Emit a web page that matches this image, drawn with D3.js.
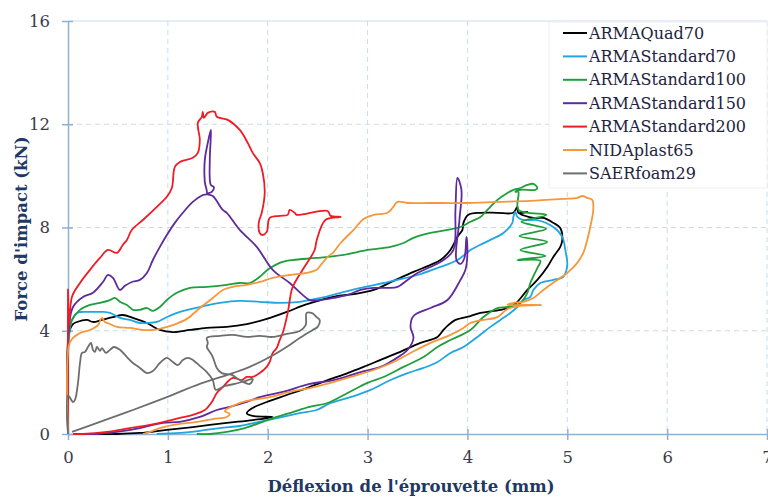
<!DOCTYPE html>
<html>
<head>
<meta charset="utf-8">
<script src="https://cdn.jsdelivr.net/npm/d3@7"></script>
<style>
  body { margin: 0; background: #fff; }
  svg { display: block; }
</style>
</head>
<body>
<div id="chart"></div>
<script>
// deflection (mm), impact force (kN)
var armaQuad70 = [[0,0],[0.01,3.9],[0.05,4.26],[0.09,4.34],[0.19,4.42],[0.25,4.34],[0.34,4.42],[0.45,4.53],[0.55,4.61],[0.65,4.5],[0.79,4.3],[0.92,4.03],[1.05,3.95],[1.22,4.03],[1.39,4.11],[1.59,4.15],[1.79,4.26],[1.99,4.46],[2.19,4.73],[2.37,5.0],[2.53,5.19],[2.7,5.35],[2.88,5.43],[3.06,5.58],[3.26,5.93],[3.46,6.28],[3.63,6.55],[3.73,6.74],[3.83,7.13],[3.9,7.64],[3.95,7.91],[3.96,8.18],[4.01,8.49],[4.13,8.57],[4.3,8.57],[4.46,8.57],[4.5,8.8],[4.51,8.57],[4.6,8.6],[4.52,8.55],[4.66,8.37],[4.76,8.37],[4.86,8.18],[4.93,7.98],[4.95,7.52],[4.93,7.25],[4.86,6.86],[4.8,6.47],[4.7,5.97],[4.6,5.58],[4.5,5.12],[4.43,4.92],[4.33,4.81],[4.13,4.69],[4.03,4.57],[3.88,4.42],[3.8,4.19],[3.76,4.03],[3.7,3.76],[3.53,3.53],[3.3,3.14],[3.13,2.87],[2.96,2.6],[2.8,2.36],[2.6,2.09],[2.39,1.78],[2.19,1.51],[1.99,1.24],[1.85,1.01],[1.79,0.81],[1.85,0.7],[2.05,0.66],[1.85,0.54],[1.59,0.43],[1.25,0.27],[0.99,0.16],[0.72,0.04],[0.49,0],[0.25,0],[0.05,0]]

var armaStandard70 = [[0,0],[0.01,3.76],[0.04,4.42],[0.09,4.69],[0.15,4.73],[0.25,4.73],[0.35,4.73],[0.42,4.69],[0.52,4.5],[0.62,4.42],[0.72,4.3],[0.79,4.3],[0.89,4.34],[0.99,4.53],[1.12,4.73],[1.32,4.92],[1.52,5.08],[1.72,5.16],[1.92,5.12],[2.12,5.08],[2.32,5.12],[2.53,5.27],[2.73,5.47],[2.93,5.66],[3.16,5.85],[3.3,5.97],[3.5,6.16],[3.7,6.43],[3.9,6.74],[4.03,7.13],[4.13,7.33],[4.23,7.52],[4.36,7.79],[4.45,8.18],[4.46,8.41],[4.48,8.6],[4.5,8.41],[4.56,8.29],[4.7,8.29],[4.86,8.02],[4.95,7.64],[4.98,7.13],[5.0,6.55],[4.96,6.09],[4.86,5.97],[4.73,5.85],[4.66,5.58],[4.63,5.31],[4.56,5.19],[4.5,4.92],[4.43,4.69],[4.33,4.42],[4.23,4.15],[4.1,3.76],[3.96,3.37],[3.83,3.14],[3.7,2.79],[3.56,2.56],[3.4,2.36],[3.23,2.09],[3.03,1.71],[2.83,1.43],[2.63,1.2],[2.49,0.93],[2.32,0.81],[2.15,0.66],[1.99,0.54],[1.82,0.39],[1.72,0.31],[1.52,0.23],[1.32,0.12],[1.12,0.04],[0.89,0]]

var armaStandard100 = [[0,0],[0.01,3.91],[0.04,4.42],[0.12,4.81],[0.22,5.0],[0.32,5.08],[0.42,5.19],[0.47,5.27],[0.52,5.12],[0.59,5.0],[0.65,4.81],[0.72,4.81],[0.79,4.88],[0.85,4.77],[0.92,4.92],[0.99,5.19],[1.09,5.47],[1.22,5.66],[1.39,5.7],[1.59,5.78],[1.72,5.85],[1.82,5.85],[1.92,6.09],[2.0,6.36],[2.12,6.63],[2.25,6.74],[2.49,6.82],[2.76,6.94],[3.0,7.13],[3.23,7.25],[3.36,7.4],[3.46,7.6],[3.63,7.79],[3.8,7.91],[3.93,8.02],[4.03,8.22],[4.13,8.41],[4.2,8.68],[4.3,9.07],[4.4,9.34],[4.46,9.46],[4.53,9.53],[4.6,9.65],[4.66,9.69],[4.7,9.53],[4.68,9.46],[4.53,9.46],[4.48,9.38],[4.51,9.38],[4.51,8.68],[4.79,8.49],[4.54,8.22],[4.79,7.95],[4.52,7.67],[4.8,7.44],[4.53,7.13],[4.78,6.9],[4.5,6.74],[4.73,6.71],[4.7,6.43],[4.63,5.85],[4.6,5.47],[4.53,5.08],[4.4,4.92],[4.3,4.88],[4.16,4.53],[4.03,4.03],[3.83,3.64],[3.7,3.37],[3.56,2.98],[3.36,2.6],[3.16,2.21],[3.0,1.98],[2.8,1.59],[2.6,1.2],[2.42,1.05],[2.25,0.85],[2.09,0.66],[1.95,0.47],[1.77,0.23],[1.59,0.08],[1.42,0],[1.29,0]]

var armaStandard150 = [[0,0],[0.01,4.15],[0.05,4.92],[0.15,5.31],[0.25,5.47],[0.35,5.89],[0.4,6.16],[0.45,6.05],[0.52,5.58],[0.57,5.74],[0.64,5.89],[0.72,5.97],[0.79,6.24],[0.85,6.74],[0.92,7.25],[0.99,7.71],[1.07,8.18],[1.15,8.57],[1.25,8.99],[1.35,9.26],[1.39,9.3],[1.37,9.77],[1.37,10.62],[1.4,11.28],[1.43,11.78],[1.43,11.51],[1.42,10.62],[1.43,9.65],[1.46,9.57],[1.44,9.38],[1.39,9.3],[1.45,9.22],[1.55,8.68],[1.59,8.57],[1.72,7.91],[1.89,7.25],[2.05,6.36],[2.22,5.85],[2.35,5.39],[2.42,5.19],[2.53,5.19],[2.66,5.27],[2.8,5.39],[2.93,5.58],[3.06,5.66],[3.2,5.66],[3.3,5.7],[3.4,5.97],[3.5,6.24],[3.63,6.47],[3.76,6.74],[3.86,7.13],[3.88,8.68],[3.9,9.92],[3.94,9.46],[3.92,8.29],[3.89,6.74],[3.93,6.59],[3.97,6.82],[3.99,7.64],[4.0,7.02],[3.98,6.36],[3.93,5.97],[3.8,5.19],[3.63,4.88],[3.46,4.57],[3.43,4.15],[3.46,3.72],[3.4,3.26],[3.26,2.87],[3.13,2.6],[2.93,2.4],[2.66,2.09],[2.42,1.94],[2.15,1.63],[1.92,1.43],[1.79,1.24],[1.62,1.05],[1.49,0.93],[1.32,0.66],[1.12,0.47],[0.95,0.43],[0.72,0.23],[0.49,0.08],[0.29,0],[0.09,0]]

var armaStandard200 = [[0,0],[0,5.6],[0.01,4.22],[0.04,5.32],[0.12,5.85],[0.22,6.36],[0.32,6.82],[0.4,7.13],[0.49,7.02],[0.55,7.33],[0.59,7.52],[0.64,7.91],[0.75,8.29],[0.89,8.8],[0.99,9.19],[1.04,9.53],[1.07,10.35],[1.12,10.54],[1.25,10.7],[1.3,10.89],[1.32,11.4],[1.3,12.05],[1.34,12.29],[1.35,12.48],[1.36,12.25],[1.4,12.44],[1.47,12.48],[1.49,12.29],[1.6,12.17],[1.72,11.78],[1.8,11.28],[1.85,10.89],[1.92,10.5],[1.95,10.12],[1.97,9.34],[1.94,8.57],[1.91,8.18],[1.92,7.79],[1.95,7.71],[1.99,7.83],[2.02,8.37],[2.12,8.45],[2.2,8.49],[2.22,8.68],[2.27,8.57],[2.29,8.49],[2.6,8.64],[2.63,8.45],[2.73,8.41],[2.58,8.3],[2.49,7.5],[2.47,7.13],[2.35,6.36],[2.27,5.85],[2.24,5.58],[2.2,4.69],[2.15,3.91],[2.12,3.64],[2.09,3.33],[2.05,3.14],[2.02,2.79],[1.99,2.6],[1.92,2.36],[1.85,2.21],[1.79,2.21],[1.74,2.09],[1.65,2.17],[1.55,1.82],[1.49,1.59],[1.44,1.24],[1.37,0.93],[1.25,0.74],[1.12,0.62],[0.82,0.35],[0.62,0.23],[0.39,0.08],[0.15,0],[0.05,0]]

var nidaplast65 = [[0,0],[0.01,3.45],[0.05,3.72],[0.12,3.91],[0.22,4.03],[0.3,4.22],[0.34,4.5],[0.37,4.34],[0.42,4.26],[0.49,4.15],[0.62,4.11],[0.75,4.03],[0.85,4.03],[0.95,4.11],[1.05,4.22],[1.19,4.46],[1.32,4.88],[1.45,5.27],[1.55,5.58],[1.65,5.7],[1.79,5.78],[1.92,5.89],[2.05,6.05],[2.22,6.16],[2.39,6.24],[2.49,6.36],[2.54,6.59],[2.6,6.86],[2.66,7.05],[2.73,7.4],[2.86,7.91],[2.96,8.33],[3.06,8.49],[3.2,8.57],[3.25,8.76],[3.3,8.99],[3.4,8.95],[3.63,8.95],[3.96,8.95],[4.3,8.99],[4.63,9.03],[4.96,9.11],[5.1,9.15],[5.15,9.22],[5.2,9.15],[5.25,9.07],[5.26,8.68],[5.23,8.02],[5.2,7.52],[5.16,7.02],[5.1,6.63],[5.0,6.24],[4.9,5.97],[4.76,5.58],[4.66,5.27],[4.56,5.12],[4.46,5.08],[4.4,5.0],[4.58,5.0],[4.74,5.0],[4.53,4.96],[4.4,4.84],[4.3,4.53],[4.16,4.42],[4.03,4.3],[3.96,4.11],[3.83,3.84],[3.63,3.53],[3.43,3.14],[3.26,2.79],[3.03,2.44],[2.83,2.21],[2.63,1.98],[2.42,1.78],[2.22,1.63],[2.02,1.43],[1.79,1.28],[1.65,1.09],[1.57,0.89],[1.62,0.78],[1.59,0.66],[1.45,0.58],[1.29,0.47],[1.12,0.39],[0.92,0.23],[0.82,0.08],[0.75,0]]

var saerfoam29 = [[0,0],[0,1.5],[0.05,1.24],[0.07,1.32],[0.1,1.98],[0.12,2.75],[0.14,3.14],[0.17,3.18],[0.2,3.37],[0.23,3.53],[0.25,3.26],[0.27,3.18],[0.29,3.37],[0.32,3.22],[0.34,3.33],[0.38,3.14],[0.42,3.26],[0.46,3.37],[0.52,3.26],[0.59,2.98],[0.65,2.75],[0.72,2.56],[0.79,2.36],[0.85,2.44],[0.92,2.75],[0.99,2.95],[1.05,2.79],[1.1,2.67],[1.15,2.87],[1.2,2.95],[1.25,2.87],[1.32,2.64],[1.39,2.4],[1.45,2.09],[1.48,1.71],[1.57,1.86],[1.67,1.94],[1.77,2.05],[1.85,2.13],[1.82,1.94],[1.72,2.09],[1.64,2.29],[1.54,2.36],[1.49,2.56],[1.45,2.98],[1.42,3.18],[1.39,3.37],[1.4,3.53],[1.39,3.72],[1.52,3.8],[1.65,3.84],[1.79,3.76],[1.92,3.8],[2.05,3.76],[2.19,3.88],[2.32,3.99],[2.38,4.22],[2.39,4.69],[2.44,4.69],[2.49,4.53],[2.52,4.42],[2.5,4.15],[2.45,4.03],[2.32,3.72],[2.22,3.45],[2.02,2.98],[1.82,2.6],[1.65,2.36],[1.32,1.94],[0.99,1.43],[0.65,0.93],[0.32,0.47],[0.04,0.08]]

var seriesNames = ["ARMAQuad70", "ARMAStandard70", "ARMAStandard100", "ARMAStandard150", "ARMAStandard200", "NIDAplast65", "SAERfoam29"]
var seriesColors = ["#000000", "#22a6e2", "#1f9e3c", "#5f2a9c", "#ee1c24", "#f5973a", "#6e6e6e"]
var seriesData = [armaQuad70, armaStandard70, armaStandard100, armaStandard150, armaStandard200, nidaplast65, saerfoam29]

var xTicks = [0, 1, 2, 3, 4, 5, 6, 7]
var yTicks = [0, 4, 8, 12, 16]

var width = 768
var height = 497
var serif = "'DejaVu Serif', serif"
var axisColor = "#8fb1d4"

var svg = d3.select("#chart")
  .append("svg")
  .attr("width", width)
  .attr("height", height)
  .style("background", "#fff")

var x = d3.scaleLinear().domain([0, 7]).range([68, 767])
var y = d3.scaleLinear().domain([0, 16]).range([434, 21])

// grid
svg.append("g")
  .selectAll("line")
  .data(xTicks.filter(d => d > 0))
  .join("line")
  .attr("x1", d => x(d)).attr("x2", d => x(d))
  .attr("y1", y(16)).attr("y2", y(0))
  .attr("stroke", "#cbdbea")
  .attr("stroke-dasharray", "5,4")

svg.append("g")
  .selectAll("line")
  .data(yTicks.filter(d => d > 0))
  .join("line")
  .attr("x1", x(0)).attr("x2", x(7))
  .attr("y1", d => y(d)).attr("y2", d => y(d))
  .attr("stroke", "#cbdbea")
  .attr("stroke-dasharray", d => d == 16 ? null : "5,4")

// axes
var xAxis = svg.append("g")
  .attr("transform", "translate(0," + y(0) + ")")
  .call(d3.axisBottom(x).tickValues(xTicks).tickFormat(d3.format("d")).tickSizeInner(6).tickSizeOuter(0).tickPadding(11))
var yAxis = svg.append("g")
  .attr("transform", "translate(" + x(0) + ",0)")
  .call(d3.axisLeft(y).tickValues(yTicks).tickFormat(d3.format("d")).tickSizeInner(6).tickSizeOuter(0).tickPadding(12))

;[xAxis, yAxis].forEach(function (g) {
  g.select(".domain").attr("stroke", axisColor).attr("stroke-width", 1.5)
  g.selectAll(".tick line").attr("stroke", axisColor).attr("stroke-width", 1.5)
  g.selectAll(".tick text")
    .attr("fill", "#3b3b4b")
    .style("font-family", serif)
    .style("font-size", "16.5px")
})
xAxis.selectAll(".tick line").attr("y1", -5)
yAxis.selectAll(".tick line").attr("x1", 5).attr("x2", -6)

// curves
var line = d3.line()
  .x(d => x(d[0]))
  .y(d => y(d[1]))
  .curve(d3.curveCatmullRom.alpha(0.5))

svg.append("g")
  .selectAll("path")
  .data(seriesData)
  .join("path")
  .attr("d", d => line(d))
  .attr("fill", "none")
  .attr("stroke", (d, i) => seriesColors[i])
  .attr("stroke-width", 1.8)
  .attr("stroke-linejoin", "round")

// legend
var legend = svg.append("g")
legend.append("rect")
  .attr("x", 549).attr("y", 22)
  .attr("width", 218).attr("height", 166)
  .attr("fill", "#fff")
  .attr("stroke", "#f0f0f0")

var item = legend.selectAll("g")
  .data(seriesNames)
  .join("g")
  .attr("transform", (d, i) => "translate(0," + (33 + i * 23.4) + ")")

item.append("line")
  .attr("x1", 563).attr("x2", 587)
  .attr("stroke", (d, i) => seriesColors[i])
  .attr("stroke-width", 2)

item.append("text")
  .attr("x", 589)
  .attr("dy", "0.35em")
  .attr("fill", "#1e2340")
  .style("font-family", serif)
  .style("font-size", "16px")
  .text(d => d)

// axis titles
svg.append("text")
  .attr("x", 411).attr("y", 492)
  .attr("text-anchor", "middle")
  .attr("fill", "#1f3864")
  .style("font-family", serif)
  .style("font-weight", "bold")
  .style("font-size", "16.5px")
  .text("Déflexion de l'éprouvette (mm)")

svg.append("text")
  .attr("transform", "translate(27,229) rotate(-90)")
  .attr("text-anchor", "middle")
  .attr("fill", "#1f3864")
  .style("font-family", serif)
  .style("font-weight", "bold")
  .style("font-size", "16.5px")
  .text("Force d'impact (kN)")
</script>
</body>
</html>
